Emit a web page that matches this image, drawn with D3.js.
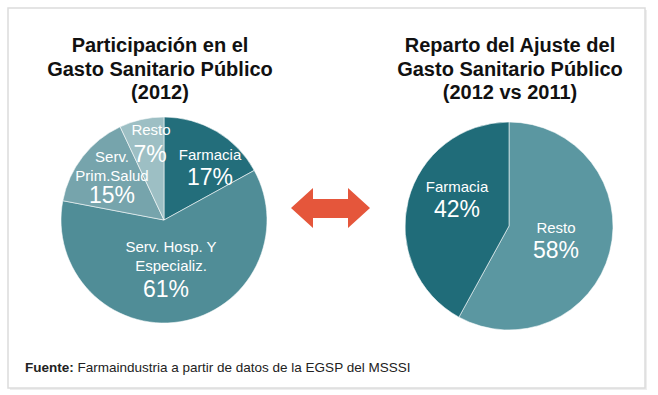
<!DOCTYPE html>
<html><head><meta charset="utf-8">
<script src="https://cdn.jsdelivr.net/npm/d3@7"></script>
<style>
html,body{margin:0;padding:0;background:#fff;}
svg{display:block;font-family:"Liberation Sans",Arial,sans-serif;}
</style></head>
<body>
<svg id="chart" width="658" height="395"></svg>
<script>
// ---- data ----
const leftTitle = ["Participación en el", "Gasto Sanitario Público", "(2012)"];
const rightTitle = ["Reparto del Ajuste del", "Gasto Sanitario Público", "(2012 vs 2011)"];
const leftCategories = ["Farmacia", "Serv. Hosp. Y Especializ.", "Serv. Prim.Salud", "Resto"];
const leftValues = [17, 61, 15, 7];
const rightCategories = ["Resto", "Farmacia"];
const rightValues = [58, 42];
const sourceBold = "Fuente:";
const sourceText = " Farmaindustria a partir de datos de la EGSP del MSSSI";

// ---- layout / style ----
const leftColors = ["#236e7b", "#508d97", "#76a4ac", "#9dbfc4"];
const rightColors = ["#5b97a1", "#206c79"];
const leftLabelLines = [["Farmacia"], ["Serv. Hosp. Y", "Especializ."], ["Serv.", "Prim.Salud"], ["Resto"]];
const leftLabelPos = [
  {lines:[210,160], pct:[210,185]},
  {lines:[171,252], pct:[166,297]},
  {lines:[112,162], pct:[112,203]},
  {lines:[151,135], pct:[150,162]}
];
const rightLabelLines = [["Resto"], ["Farmacia"]];
const rightLabelPos = [[556,233],[457,192]];
const LABEL_FS = 15, PCT_FS = 23;

const svg = d3.select("#chart");

// frame
svg.append("rect").attr("x", 10).attr("y", 10).attr("width", 637).attr("height", 380)
  .attr("fill", "#eeeeee");
svg.append("rect").attr("x", 8).attr("y", 8).attr("width", 637).attr("height", 380)
  .attr("fill", "#fff").attr("stroke", "#dcdcdc").attr("stroke-width", 1.5);

// titles
function title(lines, cx) {
  const t = svg.append("text").attr("text-anchor", "middle")
    .attr("font-weight", "bold").attr("font-size", 20).attr("fill", "#111");
  lines.forEach((l, i) => t.append("tspan").attr("x", cx).attr("y", 52 + i * 23.5).text(l));
}
title(leftTitle, 160);
title(rightTitle, 510);

const pie = d3.pie().sort(null).value(d => d);

function drawPie(values, colors, cx, cy, r) {
  const arc = d3.arc().innerRadius(0).outerRadius(r);
  const g = svg.append("g").attr("transform", `translate(${cx},${cy})`);
  const arcs = pie(values);
  g.selectAll("path").data(arcs).join("path")
    .attr("d", arc).attr("fill", (d, i) => colors[i])
    .attr("stroke", "#ffffff").attr("stroke-width", 0.8).attr("stroke-opacity", 0.7);
  return arcs;
}

const lArcs = drawPie(leftValues, leftColors, 164, 220, 103);
const rArcs = drawPie(rightValues, rightColors, 509, 226, 104);

const lbl = svg.append("g").attr("fill", "#fff");
lArcs.forEach((a, i) => {
  const p = leftLabelPos[i];
  const lines = leftLabelLines[i];
  lines.forEach((l, j) => lbl.append("text").attr("x", p.lines[0]).attr("y", p.lines[1] + j * 18.5)
    .attr("text-anchor", "middle").attr("font-size", LABEL_FS).text(l));
  lbl.append("text").attr("x", p.pct[0]).attr("y", p.pct[1]).attr("text-anchor", "middle")
    .attr("font-size", PCT_FS).text(leftValues[i] + "%");
});

rArcs.forEach((a, i) => {
  const pos = rightLabelPos[i];
  lbl.append("text").attr("x", pos[0]).attr("y", pos[1]).attr("text-anchor", "middle")
    .attr("font-size", LABEL_FS).text(rightLabelLines[i][0]);
  lbl.append("text").attr("x", pos[0]).attr("y", pos[1] + 25).attr("text-anchor", "middle")
    .attr("font-size", PCT_FS).text(rightValues[i] + "%");
});

// double arrow
const ax0 = 291, ax1 = 370, ay = 208;
svg.append("path").attr("fill", "#e5563b")
  .attr("d", `M${ax0},${ay} L${ax0+22},${ay-20} L${ax0+22},${ay-9} L${ax1-22},${ay-9} L${ax1-22},${ay-20}
   L${ax1},${ay} L${ax1-22},${ay+20} L${ax1-22},${ay+10} L${ax0+22},${ay+10} L${ax0+22},${ay+20} Z`);

// source
const src = svg.append("text").attr("x", 25).attr("y", 372).attr("font-size", 13.5).attr("fill", "#222");
src.append("tspan").attr("font-weight", "bold").text(sourceBold);
src.append("tspan").text(sourceText);
</script>
</body></html>
